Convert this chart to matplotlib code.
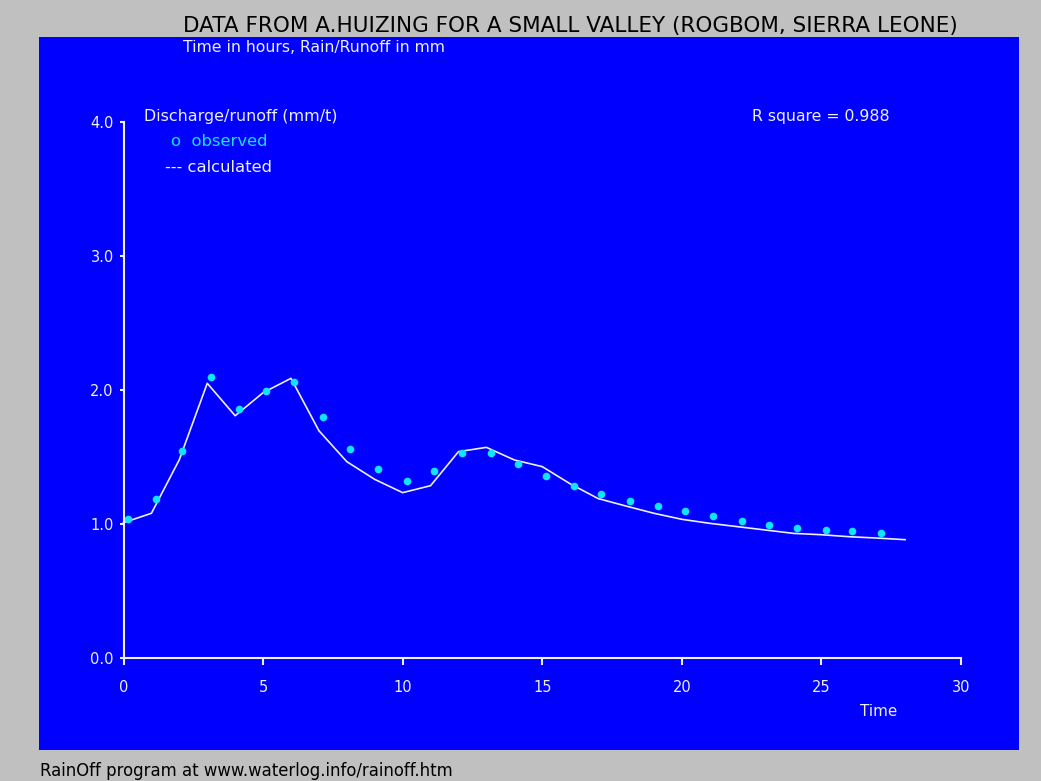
import matplotlib.pyplot as plt
from matplotlib.patches import Rectangle

# observed discharge (dots) and calculated discharge (line), mm per hour
t_obs = [0.15, 1.18, 2.11, 3.14, 4.15, 5.11, 6.12, 7.15, 8.11, 9.13, 10.15, 11.12,
         12.12, 13.16, 14.12, 15.13, 16.15, 17.11, 18.13, 19.16, 20.11, 21.13,
         22.16, 23.11, 24.13, 25.15, 26.11, 27.13]
q_obs = [1.035, 1.184, 1.547, 2.097, 1.856, 1.995, 2.06, 1.796, 1.56, 1.408, 1.321,
         1.395, 1.532, 1.532, 1.448, 1.358, 1.285, 1.221, 1.172, 1.134, 1.097,
         1.057, 1.020, 0.995, 0.970, 0.957, 0.945, 0.933]

t_calc = list(range(29))
q_calc = [1.01, 1.08, 1.48, 2.05, 1.808, 1.98, 2.087, 1.696, 1.465, 1.333, 1.234,
          1.286, 1.540, 1.572, 1.478, 1.428, 1.30, 1.19, 1.134, 1.08, 1.035, 1.005,
          0.98, 0.955, 0.93, 0.92, 0.905, 0.895, 0.883]

x_ticks = [0, 5, 10, 15, 20, 25, 30]
y_ticks = [0.0, 1.0, 2.0, 3.0, 4.0]

W, H = 1041, 781
BLUE = "#0000FF"
GRAY = "#C0C0C0"
WHITE = "#EEEEFF"
CYAN = "#10E4FF"

plt.rcParams["font.family"] = ["DejaVu Sans"]


def fx(px):
    return px / W


def fy(py):
    return 1 - py / H


fig = plt.figure(figsize=(W / 100, H / 100), dpi=100, facecolor=GRAY)
fig.patches.append(Rectangle((fx(39), fy(750)), fx(1019) - fx(39), fy(37) - fy(750),
                             transform=fig.transFigure, facecolor=BLUE,
                             edgecolor="none", zorder=-1))

ax = fig.add_axes([fx(123.5), fy(658), fx(961) - fx(123.5), fy(122) - fy(658)])
ax.set_zorder(2)
ax.set_facecolor("none")
ax.set_xlim(0, 30)
ax.set_ylim(0, 4)

ax.plot(t_calc, q_calc, color=WHITE, lw=1.2, clip_on=False)
ax.plot(t_obs, q_obs, "o", color=CYAN, ms=4.5, mec=CYAN, clip_on=False)

for side in ["top", "right"]:
    ax.spines[side].set_visible(False)
for side in ["left", "bottom"]:
    ax.spines[side].set_color(WHITE)
    ax.spines[side].set_linewidth(1.5)

ax.set_xticks(x_ticks)
ax.set_xticklabels([str(v) for v in x_ticks])
ax.set_yticks(y_ticks)
ax.set_yticklabels([f"{v:.1f}" for v in y_ticks])
ax.tick_params(axis="x", colors=WHITE, length=5, width=1.5, pad=11, labelsize=10.5)
ax.tick_params(axis="y", colors=WHITE, length=3, width=1.5, pad=4, labelsize=10.5)

renderer = fig.canvas.get_renderer()


def fit_text(x0, x1, y, s, color):
    # text placed from pixel x0 to x1, font size scaled to that width
    t = fig.text(fx(x0), fy(y), s, ha="left", va="center", color=color, fontsize=10)
    width = t.get_window_extent(renderer).width
    t.set_fontsize(10 * (x1 - x0) / width)
    return t


fit_text(183, 955, 26, "DATA FROM A.HUIZING FOR A SMALL VALLEY (ROGBOM, SIERRA LEONE)", "black")
fit_text(183, 444, 48, "Time in hours, Rain/Runoff in mm", WHITE)
fit_text(144, 336, 117, "Discharge/runoff (mm/t)", WHITE)
fit_text(171, 267, 142, "o  observed", CYAN)
fit_text(165, 272, 167, "--- calculated", WHITE)
fit_text(752, 890, 116, "R square = 0.988", WHITE)
fit_text(860, 897, 712, "Time", WHITE)
fit_text(40, 455, 771, "RainOff program at www.waterlog.info/rainoff.htm", "black")

fig.savefig("out.png", dpi=100, facecolor=GRAY)
